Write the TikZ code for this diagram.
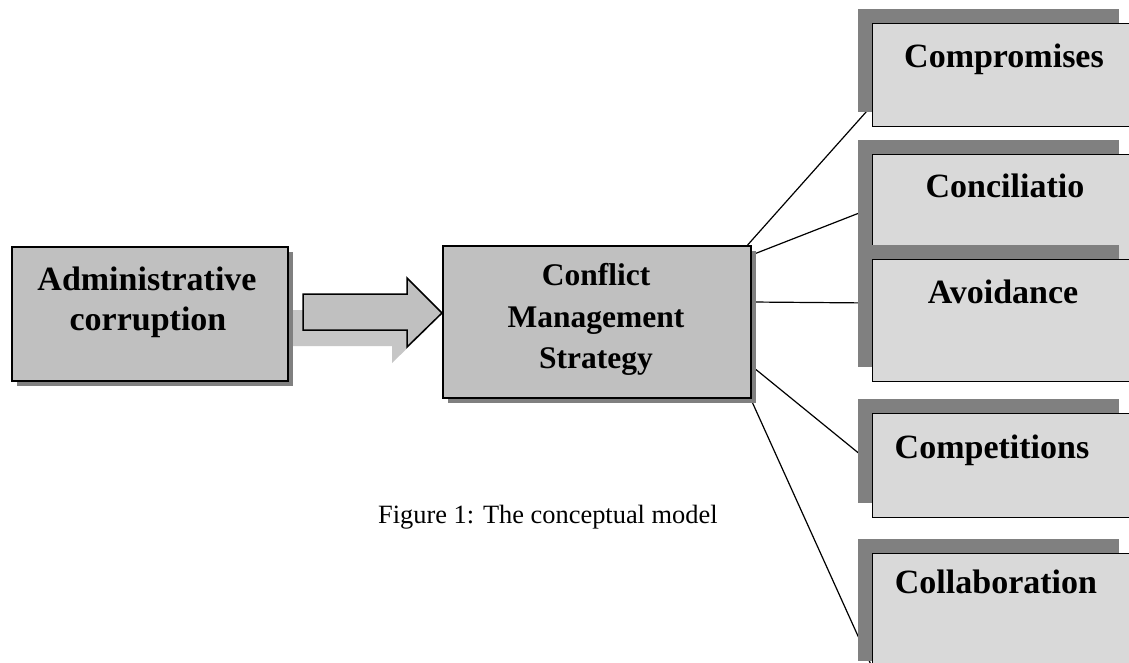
\documentclass[tikz,border=0pt]{standalone}
\usepackage{fontspec}
\setmainfont{Liberation Serif}
\usetikzlibrary{shadows,backgrounds}
\definecolor{boxgray}{HTML}{C0C0C0}
\definecolor{lightbox}{HTML}{D9D9D9}
\definecolor{shadowgray}{HTML}{808080}
\definecolor{arrowshadow}{HTML}{C6C6C6}
\begin{document}
\begin{tikzpicture}[x=1pt,y=-1pt,
  mainbox/.style={draw=black, line width=1.6pt, fill=boxgray, rectangle, inner sep=0pt,
    anchor=north west, general shadow={fill=shadowgray, shadow xshift=5pt, shadow yshift=-5pt}},
  optbox/.style={draw=black, line width=1.3pt, fill=lightbox, rectangle, inner sep=0pt,
    anchor=north west, minimum width=261pt,
    general shadow={fill=shadowgray, shadow xshift=-15pt, shadow yshift=15pt}},
  bigtxt/.style={inner sep=0pt, anchor=base, font=\fontsize{34}{40}\selectfont\bfseries},
  midtxt/.style={inner sep=0pt, anchor=base, font=\fontsize{31.5}{42}\selectfont\bfseries},
  conn/.style={draw=black, line width=1.2pt},
  arrowbody/.style={draw=black, line width=1.5pt, fill=boxgray, line join=miter}
]
\useasboundingbox (0,0) rectangle (1129,663);

% left and central boxes
\node[mainbox, minimum width=276pt, minimum height=134pt] (admin) at (11,246) {};
\node[mainbox, minimum width=308pt, minimum height=152pt] (cms) at (442,245) {};

\node[bigtxt] (adminA) at (147,290) {Administrative};
\node[bigtxt] (adminB) at (148,330) {corruption};
\node[midtxt] (cmsA) at (596,285) {Conflict};
\node[midtxt] (cmsB) at (596,327) {Management};
\node[midtxt] (cmsC) at (596,368) {Strategy};

% right boxes
\node[optbox, minimum height=103pt] (comp) at (872,23) {};
\node[optbox, minimum height=122pt] (conc) at (872,154) {};
\node[optbox, minimum height=122pt] (avoid) at (872,259) {};
\node[optbox, minimum height=104pt] (compet) at (872,413) {};
\node[optbox, minimum height=122pt] (collab) at (872,553) {};

\node[bigtxt] (compT) at (1004,68) {Compromises};
\node[bigtxt] (concT) at (1005,197) {Conciliatio};
\node[bigtxt] (avoidT) at (1003,303) {Avoidance};
\node[bigtxt] (competT) at (992,458) {Competitions};
\node[bigtxt] (collabT) at (996,593) {Collaboration};

% caption
\node[inner sep=0pt, anchor=base west, font=\fontsize{26.4}{30}\selectfont] (cap) at (378,523) {Figure 1: The conceptual model};

% block arrow
\draw[arrowbody] (303,294) -- (407,294) -- (407,278) -- (442,313) -- (407,347) -- (407,330) -- (303,330) -- cycle;

% connectors and arrow shadow behind the boxes
\begin{scope}[on background layer]
\fill[white] (0,0) rectangle (1129,663);
\path[fill=arrowshadow] (288,310) -- (392,310) -- (392,294) -- (427,329) -- (392,363) -- (392,346) -- (288,346) -- cycle;
\draw[conn] ([xshift=-4pt]cms.north east) -- ([yshift=22pt]comp.south west);
\draw[conn] ([yshift=-10pt]cms.north east) -- ([yshift=-54pt]conc.north west);
\draw[conn] ([yshift=-57pt]cms.north east) -- ([yshift=-44pt]avoid.north west);
\draw[conn] ([yshift=-121pt]cms.north east) -- ([yshift=-51pt]compet.north west);
\draw[conn] ([xshift=-1pt]cms.south east) -- ([yshift=-114pt]collab.north west);
\end{scope}
\end{tikzpicture}
\end{document}
